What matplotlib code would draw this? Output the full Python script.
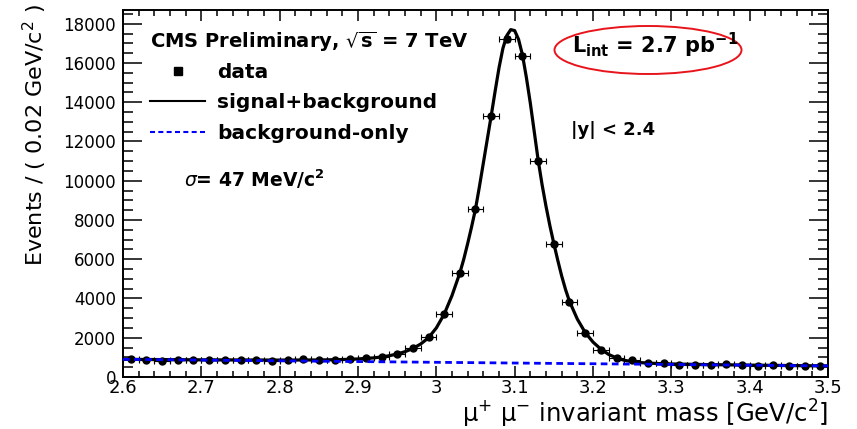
import numpy as np
import matplotlib
matplotlib.use("Agg")
import matplotlib.pyplot as plt
from matplotlib.lines import Line2D
from matplotlib.patches import Ellipse
from matplotlib.ticker import MultipleLocator

# datos: centros de bin (0.02 GeV) y eventos por bin
mass = [2.61, 2.63, 2.65, 2.67, 2.69, 2.71, 2.73, 2.75, 2.77, 2.79,
        2.81, 2.83, 2.85, 2.87, 2.89, 2.91, 2.93, 2.95, 2.97, 2.99,
        3.01, 3.03, 3.05, 3.07, 3.09, 3.11, 3.13, 3.15, 3.17, 3.19,
        3.21, 3.23, 3.25, 3.27, 3.29, 3.31, 3.33, 3.35, 3.37, 3.39,
        3.41, 3.43, 3.45, 3.47, 3.49]
events = [900, 870, 830, 850, 880, 850, 850, 880, 850, 820,
          870, 920, 880, 860, 900, 950, 1030, 1170, 1460, 2040,
          3230, 5300, 8560, 13310, 17220, 16370, 11030, 6780, 3840, 2260,
          1400, 950, 850, 730, 690, 600, 620, 630, 640, 590,
          580, 620, 540, 560, 560]

# curva signal+background
fit_mass = [2.60, 2.70, 2.80, 2.85, 2.88, 2.90, 2.92, 2.93, 2.94, 2.95,
            2.96, 2.97, 2.98, 2.99, 3.00, 3.01, 3.02, 3.03, 3.035, 3.04,
            3.045, 3.05, 3.055, 3.06, 3.065, 3.07, 3.075, 3.08, 3.085, 3.09,
            3.095, 3.10, 3.105, 3.11, 3.115, 3.12, 3.125, 3.13, 3.135, 3.14,
            3.145, 3.15, 3.155, 3.16, 3.165, 3.17, 3.18, 3.19, 3.20, 3.21,
            3.22, 3.23, 3.24, 3.25, 3.26, 3.28, 3.30, 3.35, 3.40, 3.45, 3.50]
fit_sb = [900, 875, 862, 868, 890, 920, 975, 1020, 1085, 1170,
          1290, 1450, 1680, 2000, 2500, 3200, 4150, 5300, 6000, 6800,
          7650, 8560, 9700, 10900, 12100, 13300, 14550, 15750, 16750, 17400,
          17700, 17650, 17200, 16400, 15250, 13950, 12500, 11050, 9800, 8700,
          7700, 6800, 5950, 5150, 4450, 3850, 2950, 2270, 1780, 1420,
          1150, 970, 850, 780, 735, 690, 665, 630, 605, 585, 565]

# background-only
bkg_mass = [2.60, 3.05, 3.50]
bkg = [900, 730, 565]

bin_half = 0.01

fig = plt.figure(figsize=(8.57, 4.29), dpi=100)
ax = fig.add_axes([123/857, 52/429, 705/857, 367/429])

err = np.sqrt(events)
ax.errorbar(mass, events, xerr=bin_half, yerr=err, fmt='o', color='black',
            markersize=5, elinewidth=0.8, capsize=2.2, capthick=0.8, zorder=3)
ax.plot(fit_mass, fit_sb, color='black', lw=2.3, zorder=4)
ax.plot(bkg_mass, bkg, color='#0000ff', lw=2.0, ls=(0, (2.4, 1.6)), zorder=5)

ax.set_xlim(2.6, 3.5)
ax.set_ylim(0, 18700)
ax.xaxis.set_major_locator(MultipleLocator(0.1))
ax.xaxis.set_minor_locator(MultipleLocator(0.02))
ax.yaxis.set_major_locator(MultipleLocator(2000))
ax.yaxis.set_minor_locator(MultipleLocator(500))
ax.xaxis.set_major_formatter(plt.FuncFormatter(lambda v, p: '%g' % round(v, 2)))

ax.tick_params(which='both', direction='in', top=True, right=True, width=1.1)
ax.tick_params(axis='x', which='major', length=8, labelsize=13, pad=1.5)
ax.tick_params(axis='x', which='minor', length=4)
ax.tick_params(axis='y', which='major', length=14, labelsize=12, pad=5)
ax.tick_params(axis='y', which='minor', length=7)
for s in ax.spines.values():
    s.set_linewidth(1.4)

ax.set_ylabel('Events / ( 0.02 GeV/c$^{2}$ )', fontsize=16)
ax.yaxis.set_label_coords(-0.105, 0.66)
ax.set_xlabel(r'$\mathrm{\mu}^{+}$ $\mathrm{\mu}^{-}$ invariant mass [GeV/c$^{2}$]',
              fontsize=17.5, loc='right')
ax.xaxis.set_label_coords(1.0, -0.056)


def px(x, y):
    return x / 857, 1 - y / 429


fig.text(*px(150, 48), r'CMS Preliminary, $\sqrt{\mathbf{s}}$ = 7 TeV',
         fontsize=14, fontweight='bold', va='baseline')
fig.text(*px(184, 187), r'$\sigma$= 47 MeV/c$^{\mathbf{2}}$',
         fontsize=13.5, fontweight='bold', va='baseline')
fig.text(*px(571, 135), '|y| < 2.4', fontsize=13, fontweight='bold',
         va='baseline')
fig.text(*px(572, 53), r'L$_{\mathbf{int}}$ = 2.7 pb$^{\mathbf{-1}}$',
         fontsize=15, fontweight='bold', va='baseline')

ell = Ellipse(((648 - 123) / 705, (377 - 50) / 367), 187 / 705, 48 / 367,
              transform=ax.transAxes, fill=False, edgecolor='#e8141c', lw=1.4,
              zorder=6)
ax.add_patch(ell)

handles = [Line2D([], [], ls='none', marker='s', color='black', markersize=6),
           Line2D([], [], color='black', lw=1.5),
           Line2D([], [], color='#0000ff', lw=1.5, ls=(0, (2.4, 1.6)))]
labels = ['data', 'signal+background', 'background-only']
fig.legend(handles, labels, loc='upper left', bbox_to_anchor=px(150, 63),
           frameon=False, borderpad=0, borderaxespad=0, handlelength=2.75,
           handletextpad=0.6, labelspacing=0.56,
           prop={'weight': 'bold', 'size': 14.5})

fig.savefig('out.png', dpi=100)
